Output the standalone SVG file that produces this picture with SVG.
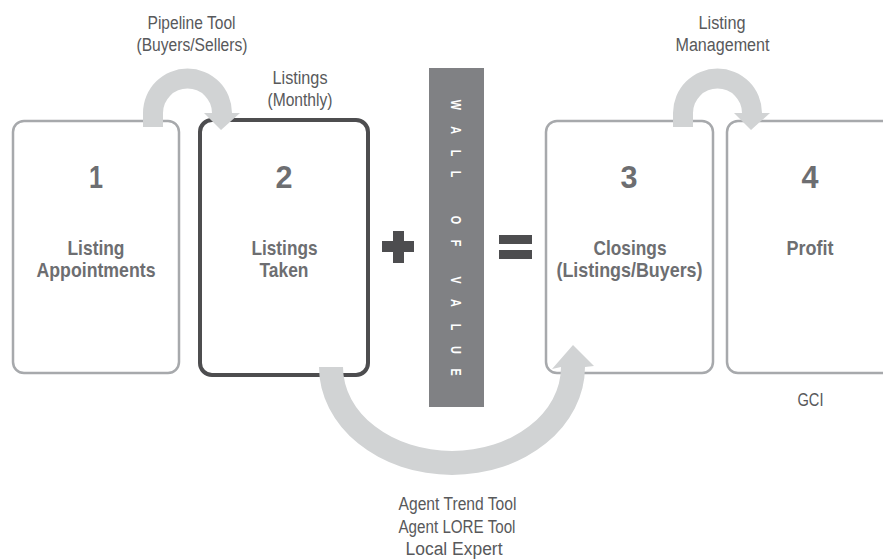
<svg xmlns="http://www.w3.org/2000/svg" width="883" height="559" viewBox="0 0 883 559">
  <style>
    .box { fill: #ffffff; stroke: #a7a9ac; stroke-width: 2.5; }
    .box-active { fill: #ffffff; stroke: #4d4d4f; stroke-width: 4; }
    .num { font-family: "Liberation Sans Narrow", "Liberation Sans", Arial, sans-serif; font-weight: bold; font-size: 32px; fill: #6d6e71; text-anchor: middle; }
    .title { font-family: "Liberation Sans Narrow", "Liberation Sans", Arial, sans-serif; font-weight: bold; font-size: 21px; fill: #6d6e71; text-anchor: middle; }
    .label { font-family: "Liberation Sans Narrow", "Liberation Sans", Arial, sans-serif; font-size: 18px; fill: #58595b; text-anchor: middle; }
    .wall-text { font-family: "Liberation Sans", Arial, sans-serif; font-weight: bold; font-size: 15px; fill: #ffffff; text-anchor: middle; }
    .arrow { fill: #d1d3d4; }
    .op { fill: #4d4d4f; }
  </style>

  <g id="node-1">
    <rect class="box" x="13" y="121" width="166" height="252" rx="11"/>
    <text class="num" x="96" y="188" textLength="14" lengthAdjust="spacingAndGlyphs">1</text>
    <text class="title" x="96" y="255" textLength="57" lengthAdjust="spacingAndGlyphs">Listing</text>
    <text class="title" x="96" y="277" textLength="119" lengthAdjust="spacingAndGlyphs">Appointments</text>
  </g>

  <g id="node-2">
    <rect class="box-active" x="200" y="120" width="168" height="255" rx="12"/>
    <text class="num" x="284" y="188" textLength="17" lengthAdjust="spacingAndGlyphs">2</text>
    <text class="title" x="284.5" y="255" textLength="66" lengthAdjust="spacingAndGlyphs">Listings</text>
    <text class="title" x="284" y="277" textLength="49" lengthAdjust="spacingAndGlyphs">Taken</text>
  </g>

  <g id="plus">
    <rect class="op" x="382" y="241" width="32" height="11"/>
    <rect class="op" x="393" y="231" width="11" height="32"/>
  </g>

  <g id="wall-of-value">
    <rect x="429" y="68" width="55" height="339" fill="#808184"/>
    <text class="wall-text" transform="rotate(90) scale(0.72,1)" y="-451" x="145.8 180.6 212.5 241.7 273.6 305.6 337.5 369.4 388.9 420.8 454.2 486.1 516.7">WALL OF VALUE</text>
  </g>

  <g id="equals">
    <rect class="op" x="499" y="235" width="33" height="9"/>
    <rect class="op" x="499" y="250" width="33" height="9"/>
  </g>

  <g id="node-3">
    <rect class="box" x="546" y="121" width="167" height="252" rx="11"/>
    <text class="num" x="629" y="188" textLength="17" lengthAdjust="spacingAndGlyphs">3</text>
    <text class="title" x="630" y="255" textLength="73" lengthAdjust="spacingAndGlyphs">Closings</text>
    <text class="title" x="629.5" y="277" textLength="146" lengthAdjust="spacingAndGlyphs">(Listings/Buyers)</text>
  </g>

  <g id="node-4">
    <rect class="box" x="727" y="121" width="200" height="252" rx="11"/>
    <text class="num" x="810" y="188" textLength="17" lengthAdjust="spacingAndGlyphs">4</text>
    <text class="title" x="810" y="255" textLength="47" lengthAdjust="spacingAndGlyphs">Profit</text>
    <text class="label" x="810.5" y="406" textLength="26" lengthAdjust="spacingAndGlyphs">GCI</text>
  </g>

  <g id="connectors">
    <path class="arrow" d="M143 127 L143 113 A44.5 44.5 0 0 1 232 113 L240 113 L221 130 L204 113 L212 113 A24.5 24.5 0 0 0 163 113 L163 127 Z"/>
    <path class="arrow" d="M673 127 L673 113 A44.5 44.5 0 0 1 762 113 L770 113 L751 130 L734 113 L742 113 A24.5 24.5 0 0 0 693 113 L693 127 Z"/>
    <path class="arrow" d="M319 367 A133 108 0 0 0 585 367 L594 366 L573 345 L552 369 L561 367 A109 84 0 0 1 343 367 Z"/>
  </g>

  <g id="connector-labels">
    <text class="label" x="191.5" y="29" textLength="88" lengthAdjust="spacingAndGlyphs">Pipeline Tool</text>
    <text class="label" x="192" y="51" textLength="111" lengthAdjust="spacingAndGlyphs">(Buyers/Sellers)</text>
    <text class="label" x="300" y="84" textLength="55" lengthAdjust="spacingAndGlyphs">Listings</text>
    <text class="label" x="300" y="106" textLength="65" lengthAdjust="spacingAndGlyphs">(Monthly)</text>
    <text class="label" x="722" y="29" textLength="47" lengthAdjust="spacingAndGlyphs">Listing</text>
    <text class="label" x="722.5" y="51" textLength="94" lengthAdjust="spacingAndGlyphs">Management</text>
    <text class="label" x="457.5" y="510" textLength="118" lengthAdjust="spacingAndGlyphs">Agent Trend Tool</text>
    <text class="label" x="457" y="533" textLength="117" lengthAdjust="spacingAndGlyphs">Agent LORE Tool</text>
    <text class="label" x="454" y="555" textLength="97" lengthAdjust="spacingAndGlyphs">Local Expert</text>
  </g>
</svg>
